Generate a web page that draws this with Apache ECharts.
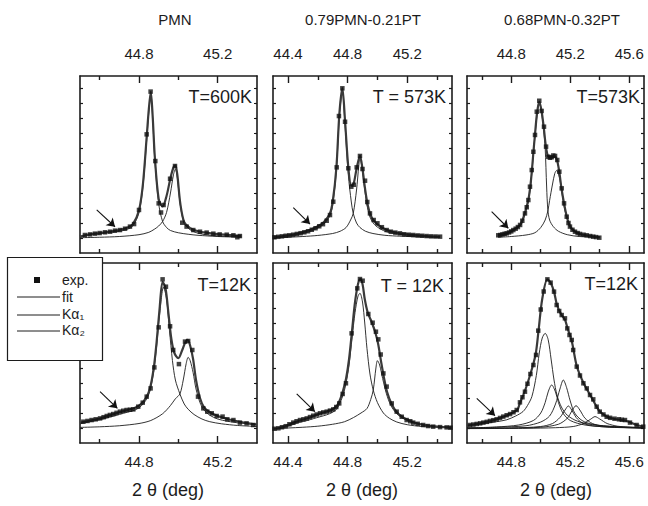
<!DOCTYPE html>
<html><head><meta charset="utf-8">
<script src="https://cdn.jsdelivr.net/npm/echarts@6/dist/echarts.min.js"></script>
<style>html,body{margin:0;padding:0;background:#fff}#c{width:648px;height:506px}</style>
</head><body><div id="c"></div>
<script>
// ---------- text / tick data ----------
const compositions = ['PMN', '0.79PMN-0.21PT', '0.68PMN-0.32PT'];
const temperatures = ['T=600K', 'T = 573K', 'T=573K', 'T=12K', 'T = 12K', 'T=12K'];
const xMin = [44.5, 44.3, 44.5];
const xMax = [45.4, 45.5, 45.7];
const majorTicks = [[44.8, 45.2], [44.4, 44.8, 45.2], [44.8, 45.2, 45.6]];
const minorTicks = [[44.6, 45.0], [44.6, 45.0, 45.4], [44.6, 45.0, 45.4]];
const yMax = [11.8, 12];
const yTicks = [[1,2,3,4,5,6,7,8,9,10,11], [1,2,3,4,5,6,7,8,9,10,11]];
const xTitle = '2 \u03b8 (deg)';
const legendLabels = ['exp.', 'fit', 'K\u03b1\u2081', 'K\u03b1\u2082'];

// ---------- panel 1: PMN, 600K ----------
const p1Exp = [[44.525,1.20],[44.551,1.24],[44.576,1.29],[44.600,1.33],[44.627,1.38],[44.653,1.42],[44.678,1.49],[44.703,1.53],[44.729,1.62],[44.754,1.76],[44.775,1.93],[44.800,2.87],[44.839,7.91],[44.859,10.76],[44.883,6.13],[44.900,3.31],[44.912,2.70],[44.925,3.20],[44.958,4.95],[44.983,5.80],[45.020,2.02],[45.042,1.76],[45.076,1.53],[45.110,1.42],[45.144,1.36],[45.178,1.29],[45.210,1.24],[45.246,1.22],[45.280,1.18],[45.300,1.05],[45.313,1.13]];
const p1Fit = [[44.50,1.10],[44.55,1.24],[44.60,1.33],[44.65,1.42],[44.70,1.53],[44.74,1.68],[44.77,1.95],[44.80,2.85],[44.82,4.60],[44.84,7.90],[44.85,9.60],[44.86,10.75],[44.87,9.00],[44.88,6.50],[44.90,3.60],[44.92,3.10],[44.94,3.80],[44.96,5.00],[44.975,5.70],[44.985,5.85],[44.995,5.20],[45.01,3.30],[45.03,2.05],[45.06,1.65],[45.10,1.45],[45.15,1.34],[45.20,1.26],[45.25,1.21],[45.32,1.14]];
const p1K1 = [[44.50,1.08],[44.55,1.20],[44.60,1.28],[44.65,1.36],[44.70,1.45],[44.74,1.58],[44.77,1.82],[44.80,2.70],[44.82,4.40],[44.84,7.70],[44.85,9.40],[44.86,10.60],[44.87,8.90],[44.88,6.30],[44.90,3.30],[44.92,2.10],[44.94,1.70],[44.96,1.50],[45.00,1.35],[45.05,1.25],[45.10,1.18],[45.20,1.10],[45.32,1.05]];
const p1K2 = [[44.50,1.02],[44.60,1.05],[44.70,1.10],[44.80,1.22],[44.85,1.38],[44.88,1.60],[44.90,1.80],[44.92,2.10],[44.94,2.70],[44.96,4.00],[44.975,5.20],[44.985,5.60],[44.995,5.00],[45.01,3.20],[45.03,2.00],[45.06,1.55],[45.10,1.32],[45.15,1.20],[45.20,1.14],[45.32,1.08]];
const p1Arrow = [[44.585,2.87],[44.678,1.75]];

// ---------- panel 2: 0.79PMN-0.21PT, 573K ----------
const p2Exp = [[44.31,1.05],[44.335,1.08],[44.36,1.11],[44.385,1.15],[44.41,1.18],[44.435,1.22],[44.46,1.27],[44.485,1.32],[44.51,1.38],[44.535,1.45],[44.56,1.55],[44.585,1.65],[44.61,1.78],[44.635,1.92],[44.66,2.15],[44.682,2.53],[44.704,3.42],[44.727,5.71],[44.742,9.13],[44.765,10.98],[44.783,8.75],[44.805,5.65],[44.825,4.42],[44.842,4.55],[44.861,5.71],[44.883,6.47],[44.90,5.60],[44.917,4.82],[44.932,3.40],[44.95,2.64],[44.975,2.20],[45.00,1.98],[45.03,1.72],[45.062,1.53],[45.09,1.42],[45.12,1.36],[45.151,1.31],[45.18,1.25],[45.21,1.22],[45.24,1.20],[45.27,1.17],[45.30,1.15],[45.33,1.13],[45.36,1.11],[45.39,1.10],[45.42,1.09]];
const p2Fit = [[44.30,1.05],[44.35,1.10],[44.40,1.17],[44.45,1.26],[44.50,1.38],[44.55,1.55],[44.60,1.78],[44.64,2.05],[44.68,2.60],[44.70,3.40],[44.725,5.70],[44.745,9.30],[44.765,11.00],[44.783,8.80],[44.805,5.70],[44.825,4.50],[44.84,4.60],[44.86,5.60],[44.883,6.50],[44.90,5.60],[44.917,4.30],[44.935,3.20],[44.955,2.50],[44.98,2.10],[45.02,1.75],[45.06,1.55],[45.10,1.42],[45.15,1.31],[45.20,1.24],[45.25,1.19],[45.33,1.13],[45.42,1.09]];
const p2K1 = [[44.30,1.03],[44.35,1.07],[44.40,1.13],[44.45,1.20],[44.50,1.30],[44.55,1.45],[44.60,1.66],[44.64,1.92],[44.68,2.45],[44.70,3.20],[44.725,5.50],[44.745,9.10],[44.765,10.80],[44.783,8.50],[44.805,5.20],[44.825,3.40],[44.838,2.64],[44.86,2.00],[44.883,1.70],[44.92,1.45],[44.97,1.30],[45.05,1.18],[45.15,1.12],[45.30,1.07],[45.42,1.05]];
const p2K2 = [[44.30,1.02],[44.40,1.05],[44.50,1.10],[44.60,1.17],[44.70,1.30],[44.75,1.45],[44.79,1.70],[44.82,2.20],[44.838,2.64],[44.86,4.20],[44.875,5.80],[44.883,6.30],[44.895,5.80],[44.91,4.60],[44.93,3.20],[44.95,2.40],[44.98,1.90],[45.02,1.60],[45.06,1.42],[45.10,1.32],[45.20,1.18],[45.30,1.12],[45.42,1.07]];
const p2Arrow = [[44.436,3.02],[44.548,1.93]];

// ---------- panel 3: 0.68PMN-0.32PT, 573K ----------
const p3Exp = [[44.712,1.18],[44.725,1.20],[44.74,1.24],[44.755,1.28],[44.769,1.31],[44.785,1.37],[44.80,1.44],[44.814,1.53],[44.83,1.62],[44.845,1.73],[44.86,1.87],[44.875,2.15],[44.893,2.64],[44.905,3.05],[44.916,3.53],[44.927,4.42],[44.939,5.53],[44.95,6.75],[44.961,7.87],[44.973,9.42],[44.99,10.15],[45.006,9.47],[45.022,8.42],[45.036,7.09],[45.051,6.42],[45.062,6.35],[45.074,6.38],[45.085,6.50],[45.097,6.47],[45.112,6.20],[45.126,5.42],[45.142,4.31],[45.158,3.31],[45.176,2.42],[45.188,2.00],[45.198,1.76],[45.215,1.55],[45.232,1.42],[45.25,1.33],[45.266,1.27],[45.29,1.22],[45.311,1.18],[45.335,1.13],[45.356,1.09],[45.375,1.06],[45.397,1.02]];
const p3Fit = [[44.71,1.18],[44.77,1.31],[44.81,1.52],[44.86,1.87],[44.89,2.60],[44.915,3.50],[44.93,4.50],[44.94,5.50],[44.95,6.70],[44.96,7.80],[44.975,9.35],[44.99,10.10],[45.005,9.50],[45.02,8.40],[45.035,7.10],[45.05,6.45],[45.075,6.35],[45.095,6.45],[45.11,6.20],[45.125,5.45],[45.14,4.35],[45.158,3.30],[45.176,2.45],[45.198,1.78],[45.232,1.42],[45.266,1.27],[45.31,1.18],[45.356,1.10],[45.40,1.03]];
const p3K1 = [[44.71,1.15],[44.77,1.28],[44.81,1.48],[44.86,1.80],[44.89,2.50],[44.915,3.40],[44.93,4.40],[44.94,5.40],[44.95,6.60],[44.96,7.70],[44.975,9.20],[44.99,10.05],[45.005,9.40],[45.02,8.20],[45.03,7.00],[45.04,4.40],[45.048,2.90],[45.06,2.20],[45.085,1.76],[45.12,1.45],[45.18,1.22],[45.26,1.10],[45.40,1.05]];
const p3K2 = [[44.71,1.05],[44.80,1.10],[44.90,1.20],[44.96,1.35],[45.00,1.70],[45.03,2.20],[45.048,2.80],[45.06,3.50],[45.08,4.60],[45.095,5.30],[45.108,5.50],[45.12,5.30],[45.135,4.60],[45.15,3.60],[45.165,2.80],[45.19,2.00],[45.22,1.55],[45.26,1.30],[45.32,1.15],[45.40,1.08]];
const p3Arrow = [[44.667,2.76],[44.78,1.65]];

// ---------- panel 4: PMN, 12K ----------
const p4Exp = [[44.517,1.42],[44.538,1.47],[44.559,1.53],[44.580,1.58],[44.602,1.64],[44.620,1.72],[44.636,1.80],[44.652,1.87],[44.669,1.93],[44.686,2.01],[44.703,2.09],[44.720,2.15],[44.737,2.20],[44.754,2.22],[44.771,2.24],[44.796,2.42],[44.819,2.69],[44.839,3.09],[44.859,3.64],[44.878,5.04],[44.900,7.71],[44.920,10.91],[44.937,10.42],[44.958,7.78],[44.974,6.20],[45.003,5.26],[45.034,6.76],[45.050,6.80],[45.071,6.20],[45.100,3.09],[45.127,2.31],[45.147,2.09],[45.170,1.98],[45.195,1.80],[45.225,1.76],[45.249,1.58],[45.280,1.53],[45.313,1.36],[45.347,1.31],[45.381,1.20]];
const p4Fit = [[44.50,1.35],[44.55,1.50],[44.60,1.63],[44.65,1.85],[44.70,2.05],[44.74,2.20],[44.78,2.35],[44.81,2.60],[44.835,3.00],[44.855,3.60],[44.875,5.00],[44.89,6.80],[44.905,9.00],[44.92,10.75],[44.935,10.30],[44.95,8.60],[44.965,6.90],[44.98,6.00],[45.00,5.65],[45.02,6.20],[45.035,6.70],[45.047,6.87],[45.06,6.50],[45.075,5.60],[45.09,4.20],[45.11,3.00],[45.13,2.40],[45.16,2.05],[45.20,1.80],[45.25,1.60],[45.30,1.45],[45.34,1.35],[45.40,1.22]];
const p4K1 = [[44.50,1.28],[44.55,1.42],[44.60,1.55],[44.65,1.72],[44.70,1.90],[44.74,2.05],[44.78,2.20],[44.81,2.45],[44.835,2.85],[44.855,3.45],[44.875,4.80],[44.89,6.50],[44.905,8.60],[44.925,10.40],[44.94,9.60],[44.955,7.50],[44.97,5.50],[44.985,4.20],[45.008,3.27],[45.03,2.60],[45.05,2.25],[45.08,1.90],[45.12,1.60],[45.16,1.42],[45.22,1.28],[45.30,1.17],[45.40,1.10]];
const p4K2 = [[44.50,1.04],[44.60,1.08],[44.70,1.15],[44.80,1.30],[44.86,1.50],[44.92,1.95],[44.96,2.50],[44.985,2.95],[45.008,3.27],[45.025,4.20],[45.04,5.30],[45.05,5.71],[45.06,5.50],[45.075,4.70],[45.09,3.60],[45.11,2.70],[45.13,2.20],[45.16,1.85],[45.20,1.60],[45.25,1.45],[45.30,1.35],[45.40,1.22]];
const p4Arrow = [[44.602,3.42],[44.69,2.31]];

// ---------- panel 5: 0.79PMN-0.21PT, 12K ----------
const p5Exp = [[44.31,0.95],[44.336,0.98],[44.36,1.05],[44.385,1.12],[44.41,1.25],[44.436,1.36],[44.458,1.45],[44.481,1.53],[44.504,1.58],[44.526,1.64],[44.548,1.73],[44.57,1.82],[44.593,1.90],[44.615,1.98],[44.637,2.04],[44.66,2.09],[44.682,2.16],[44.704,2.24],[44.724,2.40],[44.744,2.64],[44.767,3.27],[44.789,3.98],[44.827,7.31],[44.865,10.31],[44.883,10.93],[44.901,10.82],[44.939,8.60],[44.968,8.02],[44.99,7.42],[45.006,6.91],[45.022,5.90],[45.04,4.64],[45.062,3.76],[45.096,2.64],[45.129,2.09],[45.163,1.75],[45.196,1.53],[45.22,1.45],[45.24,1.36],[45.27,1.28],[45.307,1.20],[45.34,1.13],[45.374,1.09],[45.42,1.06],[45.464,1.04],[45.49,1.02]];
const p5Fit = [[44.30,0.95],[44.34,1.00],[44.40,1.20],[44.44,1.36],[44.48,1.50],[44.53,1.65],[44.57,1.80],[44.615,1.97],[44.66,2.10],[44.70,2.25],[44.73,2.50],[44.75,2.90],[44.77,3.50],[44.79,4.30],[44.81,5.60],[44.83,7.50],[44.85,9.40],[44.87,10.60],[44.885,10.93],[44.90,10.60],[44.915,9.60],[44.935,8.70],[44.96,8.10],[44.985,7.40],[45.005,6.60],[45.025,5.40],[45.045,4.30],[45.065,3.40],[45.095,2.60],[45.13,2.05],[45.165,1.75],[45.20,1.55],[45.25,1.35],[45.31,1.20],[45.38,1.10],[45.50,1.02]];
const p5K1 = [[44.30,0.95],[44.34,0.98],[44.40,1.12],[44.44,1.25],[44.48,1.38],[44.53,1.50],[44.57,1.62],[44.615,1.75],[44.66,1.88],[44.70,2.05],[44.73,2.30],[44.75,2.70],[44.77,3.20],[44.79,4.00],[44.81,5.20],[44.83,7.00],[44.85,8.70],[44.87,9.80],[44.883,9.98],[44.90,9.40],[44.915,8.00],[44.93,6.30],[44.95,4.60],[44.972,3.53],[45.00,2.70],[45.04,2.00],[45.08,1.65],[45.13,1.40],[45.20,1.22],[45.30,1.10],[45.50,1.00]];
const p5K2 = [[44.30,0.95],[44.40,1.00],[44.50,1.05],[44.60,1.12],[44.70,1.25],[44.78,1.42],[44.84,1.70],[44.89,2.00],[44.93,2.30],[44.955,2.90],[44.972,3.53],[44.99,5.00],[45.00,5.49],[45.015,5.20],[45.035,4.30],[45.06,3.30],[45.09,2.50],[45.13,1.95],[45.18,1.60],[45.25,1.35],[45.35,1.17],[45.50,1.05]];
const p5Arrow = [[44.459,3.27],[44.581,2.09]];

// ---------- panel 6: 0.68PMN-0.32PT, 12K ----------
const p6Exp = [[44.52,1.20],[44.543,1.23],[44.566,1.27],[44.589,1.31],[44.611,1.36],[44.634,1.41],[44.656,1.47],[44.679,1.52],[44.701,1.58],[44.724,1.67],[44.746,1.76],[44.769,1.85],[44.792,1.93],[44.815,2.05],[44.837,2.20],[44.859,2.71],[44.876,3.05],[44.893,3.42],[44.91,3.95],[44.93,4.60],[44.95,5.20],[44.968,5.87],[44.983,7.49],[45.00,8.90],[45.02,10.10],[45.045,10.91],[45.067,10.69],[45.09,10.09],[45.108,9.20],[45.125,8.80],[45.142,8.53],[45.164,8.31],[45.18,7.64],[45.195,7.20],[45.21,6.87],[45.22,6.20],[45.244,5.09],[45.266,4.50],[45.289,3.98],[45.312,3.64],[45.334,3.20],[45.356,2.91],[45.379,2.42],[45.40,2.09],[45.425,1.90],[45.447,1.75],[45.47,1.68],[45.50,1.62],[45.53,1.58],[45.55,1.55],[45.571,1.53],[45.605,1.36],[45.65,1.20],[45.695,1.09]];
const p6Fit = [[44.50,1.15],[44.52,1.20],[44.57,1.27],[44.61,1.36],[44.66,1.47],[44.70,1.58],[44.75,1.76],[44.79,1.93],[44.84,2.20],[44.86,2.70],[44.89,3.40],[44.93,4.60],[44.965,5.90],[44.985,7.50],[45.01,9.60],[45.045,10.91],[45.067,10.69],[45.09,10.09],[45.11,9.20],[45.14,8.55],[45.165,8.20],[45.18,7.70],[45.21,6.80],[45.245,5.10],[45.29,4.00],[45.335,3.20],[45.38,2.40],[45.40,2.10],[45.45,1.75],[45.50,1.60],[45.57,1.50],[45.61,1.36],[45.65,1.20],[45.70,1.08]];
const p6C1 = [[44.50,1.15],[44.60,1.28],[44.70,1.42],[44.77,1.55],[44.83,1.80],[44.88,2.10],[44.91,2.50],[44.94,3.10],[44.97,4.50],[44.99,6.00],[45.01,7.00],[45.03,7.31],[45.05,6.90],[45.07,5.60],[45.09,4.20],[45.11,3.20],[45.14,2.40],[45.18,1.85],[45.25,1.45],[45.35,1.22],[45.50,1.10],[45.70,1.03]];
const p6C2 = [[44.50,1.00],[44.70,1.07],[44.85,1.20],[44.95,1.50],[45.00,2.00],[45.03,2.70],[45.05,3.40],[45.074,3.87],[45.10,3.40],[45.12,2.70],[45.15,2.00],[45.20,1.50],[45.30,1.20],[45.45,1.07],[45.70,1.00]];
const p6C3 = [[44.50,1.00],[44.70,1.05],[44.90,1.15],[45.00,1.40],[45.06,1.80],[45.10,2.60],[45.13,3.60],[45.153,4.20],[45.175,3.70],[45.20,2.80],[45.23,2.00],[45.28,1.50],[45.35,1.25],[45.50,1.08],[45.70,1.02]];
const p6C4 = [[44.50,0.98],[44.80,1.00],[45.00,1.10],[45.08,1.30],[45.13,1.70],[45.165,2.20],[45.187,2.47],[45.21,2.20],[45.24,1.70],[45.28,1.35],[45.35,1.15],[45.50,1.04],[45.70,1.00]];
const p6C5 = [[44.50,0.98],[44.80,1.00],[45.00,1.05],[45.12,1.25],[45.18,1.65],[45.215,2.20],[45.239,2.49],[45.265,2.20],[45.30,1.65],[45.35,1.30],[45.42,1.12],[45.55,1.04],[45.70,1.00]];
const p6C6 = [[44.50,0.96],[44.90,0.98],[45.10,1.02],[45.22,1.10],[45.29,1.30],[45.34,1.60],[45.368,1.76],[45.40,1.60],[45.45,1.30],[45.52,1.12],[45.60,1.05],[45.70,1.01]];
const p6Arrow = [[44.566,2.98],[44.69,1.82]];

const panels = [
  {exp: p1Exp, fit: p1Fit, comps: [p1K1, p1K2], arrow: p1Arrow},
  {exp: p2Exp, fit: p2Fit, comps: [p2K1, p2K2], arrow: p2Arrow},
  {exp: p3Exp, fit: p3Fit, comps: [p3K1, p3K2], arrow: p3Arrow},
  {exp: p4Exp, fit: p4Fit, comps: [p4K1, p4K2], arrow: p4Arrow},
  {exp: p5Exp, fit: p5Fit, comps: [p5K1, p5K2], arrow: p5Arrow},
  {exp: p6Exp, fit: p6Fit, comps: [p6C1, p6C2, p6C3, p6C4, p6C5, p6C6], arrow: p6Arrow}
];

// ---------- layout ----------
const colLeft = [80, 273, 467], colWidth = [177, 179, 177];
const rowTop = [76, 263], rowHeight = [177, 180];
const FONT = '"Liberation Sans", Arial, Helvetica, sans-serif';
const INK = '#1c1c1c';

const grid = [], xAxis = [], yAxis = [], series = [];
const lineStyle = {color: INK, width: 1.6};

for (let p = 0; p < 6; p++) {
  const row = Math.floor(p / 3), col = p % 3;
  const g = {left: colLeft[col], top: rowTop[row], width: colWidth[col], height: rowHeight[row]};
  grid.push(Object.assign({}, g), Object.assign({}, g));
  const gMain = 2 * p, gOver = 2 * p + 1;
  const lab = {color: INK, fontFamily: FONT, fontSize: 15, customValues: majorTicks[col], formatter: v => v.toFixed(1)};
  xAxis.push({gridIndex: gMain, type: 'value', position: 'bottom', min: xMin[col], max: xMax[col],
    axisLine: {show: true, onZero: false, lineStyle}, splitLine: {show: false},
    axisTick: {show: true, inside: true, length: 7, customValues: majorTicks[col], lineStyle: {color: INK, width: 1.4}},
    axisLabel: Object.assign({show: row === 1, margin: 11}, lab)});
  xAxis.push({gridIndex: gMain, type: 'value', position: 'top', min: xMin[col], max: xMax[col],
    axisLine: {show: true, onZero: false, lineStyle}, splitLine: {show: false},
    axisTick: {show: true, inside: true, length: 7, customValues: majorTicks[col], lineStyle: {color: INK, width: 1.4}},
    axisLabel: Object.assign({show: row === 0, margin: 15}, lab)});
  xAxis.push({gridIndex: gOver, type: 'value', position: 'bottom', min: xMin[col], max: xMax[col],
    axisLine: {show: false, onZero: false}, splitLine: {show: false}, axisLabel: {show: false},
    axisTick: {show: true, inside: true, length: 4, customValues: minorTicks[col], lineStyle: {color: INK, width: 1.4}}});
  xAxis.push({gridIndex: gOver, type: 'value', position: 'top', min: xMin[col], max: xMax[col],
    axisLine: {show: false, onZero: false}, splitLine: {show: false}, axisLabel: {show: false},
    axisTick: {show: true, inside: true, length: 4, customValues: minorTicks[col], lineStyle: {color: INK, width: 1.4}}});
  ['left', 'right'].forEach(pos => {
    yAxis.push({gridIndex: gMain, type: 'value', position: pos, min: 0, max: yMax[row],
      axisLine: {show: true, onZero: false, lineStyle}, splitLine: {show: false}, axisLabel: {show: false},
      axisTick: {show: true, inside: true, length: 3, customValues: yTicks[row], lineStyle: {color: INK, width: 1.2}}});
  });
  yAxis.push({gridIndex: gOver, type: 'value', min: 0, max: yMax[row], show: false});

  const xi = 4 * p, yi = 3 * p;
  const pd = panels[p];
  pd.comps.forEach(c => series.push({type: 'line', xAxisIndex: xi, yAxisIndex: yi, data: c, showSymbol: false,
    smooth: 0.3, lineStyle: {color: INK, width: 0.9}, z: 2, silent: true}));
  series.push({type: 'line', xAxisIndex: xi, yAxisIndex: yi, data: pd.fit, showSymbol: false,
    smooth: 0.3, lineStyle: {color: '#3a3a3a', width: 2.2}, z: 3, silent: true});
  series.push({type: 'scatter', xAxisIndex: xi, yAxisIndex: yi, data: pd.exp, symbol: 'rect', symbolSize: 4.5,
    itemStyle: {color: '#111'}, z: 4, silent: true});
  // arrow annotation
  series.push({type: 'lines', coordinateSystem: 'cartesian2d', xAxisIndex: xi, yAxisIndex: yi, z: 5, silent: true,
    symbol: ['none', 'arrow'], symbolSize: 8,
    lineStyle: {color: '#111', width: 1.1, opacity: 1},
    data: [{coords: pd.arrow}]});
  series.push({type: 'line', xAxisIndex: 4 * p + 2, yAxisIndex: 3 * p + 2, data: [], silent: true});
}

// ---------- graphic text & legend ----------
const graphic = [];
const titleX = [175, 363, 562];
compositions.forEach((t, i) => graphic.push({type: 'text', x: titleX[i], y: 19,
  style: {text: t, font: '15px ' + FONT, fill: INK, textAlign: 'center', textVerticalAlign: 'middle'}}));
const xTitleX = [168, 362, 556];
xTitleX.forEach(x => graphic.push({type: 'text', x: x, y: 490,
  style: {text: xTitle, font: '18px ' + FONT, fill: INK, textAlign: 'center', textVerticalAlign: 'middle'}}));
const tRight = [252, 446, 640, 251, 444, 638];
const tY = [97, 97, 97, 285, 286, 284];
temperatures.forEach((t, i) => graphic.push({type: 'text', x: tRight[i], y: tY[i], z: 10,
  style: {text: t, font: '18px ' + FONT, fill: INK, textAlign: 'right', textVerticalAlign: 'middle'}}));
graphic.push({type: 'rect', shape: {x: 7.5, y: 257.5, width: 95, height: 103}, z: 20,
  style: {fill: '#fff', stroke: INK, lineWidth: 1.2}});
graphic.push({type: 'rect', shape: {x: 34, y: 277, width: 6, height: 6}, z: 21, style: {fill: '#111'}});
[297, 315, 331].forEach(y => graphic.push({type: 'line', shape: {x1: 17, y1: y, x2: 60, y2: y}, z: 21,
  style: {stroke: INK, lineWidth: 1}}));
[280, 297, 314, 330].forEach((y, i) => graphic.push({type: 'text', x: 62, y: y, z: 21,
  style: {text: legendLabels[i], font: '14px ' + FONT, fill: INK, textVerticalAlign: 'middle'}}));

const chart = echarts.init(document.getElementById('c'), null, {renderer: 'svg'});
chart.setOption({animation: false, backgroundColor: '#fff', grid, xAxis, yAxis, series, graphic});
</script></body></html>
